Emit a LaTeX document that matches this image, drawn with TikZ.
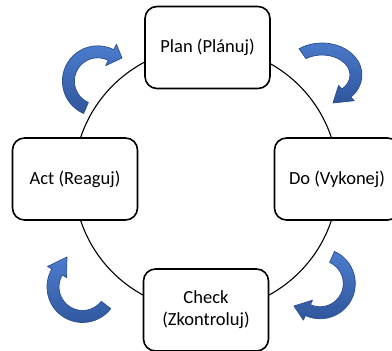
\documentclass[tikz,border=0pt]{standalone}
\usepackage{fontspec}
\setmainfont{Carlito}
\usepackage{xcolor}
\usepackage{tikz}
\usetikzlibrary{calc}

\definecolor{arrowlight}{RGB}{76,124,206}
\definecolor{arrowdark}{RGB}{48,86,156}
\definecolor{arrowedge}{RGB}{44,79,140}

\begin{document}
\begin{tikzpicture}[x=1pt,y=1pt,
  stagebox/.style={draw, line width=1.6pt, rounded corners=12pt, fill=white,
    minimum width=125pt, minimum height=82pt, align=center,
    font=\fontsize{18.5}{22}\selectfont},
  cyclering/.style={line width=1.1pt},
  bluearrow/.style={top color=arrowlight, bottom color=arrowdark,
    draw=arrowedge, line width=0.7pt, line join=round}]

\useasboundingbox (0,0) rectangle (392,351);

% Draw cycle
\coordinate (hub) at (206,172);
\draw[cyclering] (hub) circle[radius=132];

% Draw stages
\node[stagebox] (plan) at (207.5,303.5) {Plan (Plánuj)};
\node[stagebox] (do) at (337,172) {Do (Vykonej)};
\node[stagebox] (check) at (206,41) {Check\\(Zkontroluj)};
\node[stagebox] (act) at (75,172) {Act (Reaguj)};

% Centres of the turning arrows
\coordinate (turnTL) at (97.7,269.9);
\coordinate (turnTR) at (322,276);
\coordinate (turnBR) at (320.1,67.4);
\coordinate (turnBL) at (82.6,64.1);

% Draw turning arrows
\path[bluearrow] ($(turnTL)+(246.5:35.3)$) arc[start angle=246.5, end angle=63, radius=35.3]
  -- ($(turnTL)+(63:41.3)$) -- (122,293) -- ($(turnTL)+(63:17.3)$)
  -- ($(turnTL)+(63:23.3)$) arc[start angle=63, end angle=246.5, radius=23.3] -- cycle;
\path[bluearrow] ($(turnTR)+(125:40 and 32)$) arc[start angle=125, end angle=-44, x radius=40, y radius=32]
  -- ($(turnTR)+(-44:45 and 37)$) -- (333,248) -- ($(turnTR)+(-44:23 and 15)$)
  -- ($(turnTR)+(-44:28 and 20)$) arc[start angle=-44, end angle=125, x radius=28, y radius=20] -- cycle;
\path[bluearrow] ($(turnBR)+(65.9:35.2)$) arc[start angle=65.9, end angle=-114.6, radius=35.2]
  -- ($(turnBR)+(-114.6:40.2)$) -- (294,45) -- ($(turnBR)+(-114.6:18.2)$)
  -- ($(turnBR)+(-114.6:23.2)$) arc[start angle=-114.6, end angle=65.9, radius=23.2] -- cycle;
\path[bluearrow] ($(turnBL)+(-37.7:35.6)$) arc[start angle=-37.7, end angle=-210.2, radius=35.6]
  -- ($(turnBL)+(-210.2:40.6)$) -- (67,94) -- ($(turnBL)+(-210.2:18.6)$)
  -- ($(turnBL)+(-210.2:23.6)$) arc[start angle=-210.2, end angle=-37.7, radius=23.6] -- cycle;

\end{tikzpicture}
\end{document}
